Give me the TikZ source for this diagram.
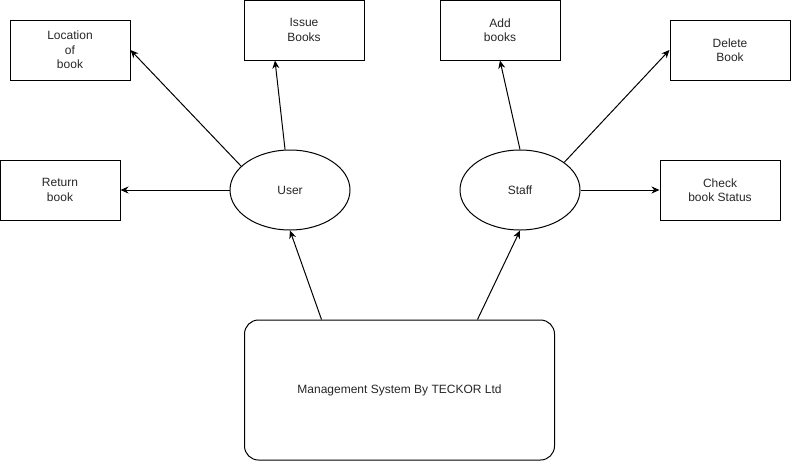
\documentclass[tikz,border=0pt]{standalone}
\usepackage{fontspec}
\setmainfont{Liberation Sans}
\usetikzlibrary{shapes.geometric,arrows.meta}

\begin{document}
\begin{tikzpicture}[x=1pt,y=-1pt,line width=1pt,
    >={Stealth[length=8pt,width=7pt]},
    every node/.style={font=\fontsize{12}{14.4}\selectfont,text=black!85},
    task/.style={draw,rectangle,minimum width=120pt,minimum height=60pt,align=center,inner sep=0pt},
    actor/.style={draw,ellipse,minimum width=120pt,minimum height=80pt,inner sep=0pt}]
    \useasboundingbox (0,0) rectangle (791,461);
    \foreach \N/\X/\Y/\T in
    {loc/70/50/{Location\\of\\book},issue/304/30/{Issue\\Books},ret/60/190/{Return\\book},
     add/500/30/{Add\\books},del/730/50/{Delete\\Book},check/720/190/{Check\\book Status}}
     {\node[task] (\N) at (\X,\Y) {\T};}
    \node[actor] (user) at (290,190) {User};
    \node[actor] (staff) at (520,190) {Staff};
    \node[draw,rounded corners=14pt,minimum width=310pt,minimum height=140pt] (sys) at (399.5,390) {Management System By TECKOR Ltd};
    \draw[->] ([xshift=-78pt]sys.north) -- (user.south);
    \draw[->] ([xshift=78pt]sys.north) -- (staff.south);
    \draw[->] (user.154) -- (loc.east);
    \draw[->] (user.97) -- ([xshift=-29pt]issue.south);
    \draw[->] (user.west) -- (ret.east);
    \draw[->] (staff.north) -- (add.south);
    \draw[->] (staff.32) -- (del.west);
    \draw[->] (staff.east) -- (check.west);
\end{tikzpicture}
\end{document}
